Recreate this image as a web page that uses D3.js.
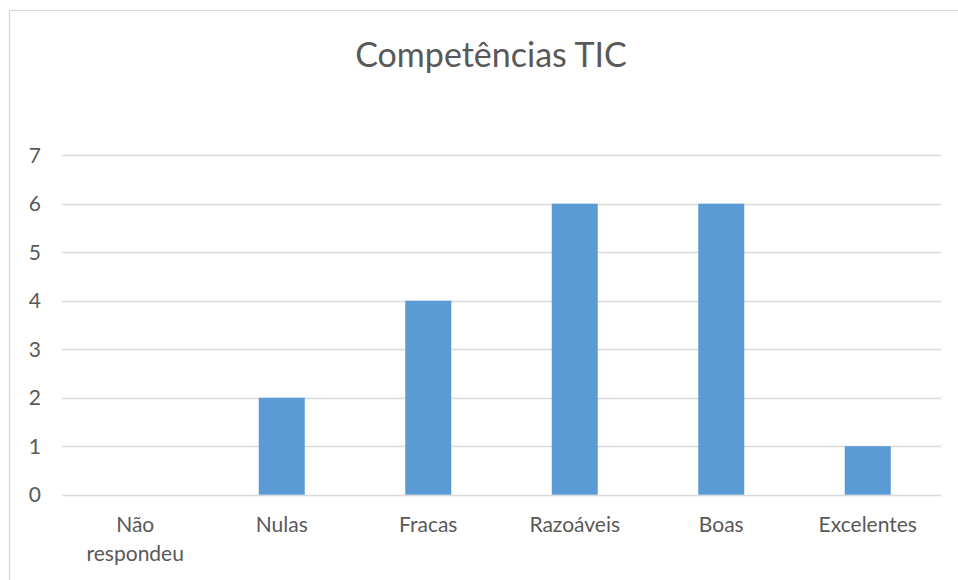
<!DOCTYPE html>
<html>
<head>
<meta charset="utf-8">
<script src="https://cdn.jsdelivr.net/npm/d3@7"></script>
<style>
  body { margin: 0; background: #fff; }
  text { font-family: Lato, "Open Sans", sans-serif; fill: #595959; }
</style>
</head>
<body>
<svg></svg>
<script>
var categories = ["Não respondeu", "Nulas", "Fracas", "Razoáveis", "Boas", "Excelentes"];
var values = [0, 2, 4, 6, 6, 1];
var yTicks = [0, 1, 2, 3, 4, 5, 6, 7];

var width = 958,
    height = 580;

var svg = d3.select("svg")
    .attr("width", width)
    .attr("height", height);

// chart area frame (runs off the right and bottom edge)
svg.append("rect")
    .attr("x", 9.5).attr("y", 10.5)
    .attr("width", 960).attr("height", 600)
    .attr("fill", "none")
    .attr("stroke", "#d9d9d9")
    .attr("stroke-width", 1.3);

svg.append("text")
    .attr("x", 491).attr("y", 67)
    .attr("text-anchor", "middle")
    .style("font-size", "34px")
    .text("Competências TIC");

var x = d3.scaleBand()
    .domain(categories)
    .range([62, 941])
    .paddingInner(0.686)
    .paddingOuter(0.343);

var y = d3.scaleLinear()
    .domain([0, 7])
    .range([494.7, 155.2]);

// gridlines
svg.append("g")
  .selectAll("line")
  .data(yTicks)
  .enter().append("line")
    .attr("x1", 62).attr("x2", 941)
    .attr("y1", function(d) { return Math.round(y(d)) + 0.5; })
    .attr("y2", function(d) { return Math.round(y(d)) + 0.5; })
    .attr("stroke", "#d9d9d9")
    .attr("stroke-width", 1.5);

// y labels
svg.append("g")
  .selectAll("text")
  .data(yTicks)
  .enter().append("text")
    .attr("x", 41)
    .attr("y", function(d) { return y(d); })
    .attr("dy", "0.35em")
    .attr("text-anchor", "end")
    .style("font-size", "21px")
    .text(function(d) { return d; });

// bars
svg.append("g")
  .selectAll("rect")
  .data(values)
  .enter().append("rect")
    .attr("x", function(d, i) { return x(categories[i]); })
    .attr("y", function(d) { return y(d); })
    .attr("width", x.bandwidth())
    .attr("height", function(d) { return y(0) - y(d); })
    .attr("fill", "#5b9bd5");

// category labels, wrap two-word label
var lab = svg.append("g")
  .selectAll("text")
  .data(categories)
  .enter().append("text")
    .attr("x", function(d) { return x(d) + x.bandwidth() / 2; })
    .attr("y", 532)
    .attr("text-anchor", "middle")
    .style("font-size", "21px");

lab.each(function(d) {
  var words = d === "Não respondeu" ? d.split(" ") : [d];
  var t = d3.select(this);
  words.forEach(function(w, i) {
    t.append("tspan")
      .attr("x", t.attr("x"))
      .attr("dy", i === 0 ? 0 : 29)
      .text(w);
  });
});
</script>
</body>
</html>
